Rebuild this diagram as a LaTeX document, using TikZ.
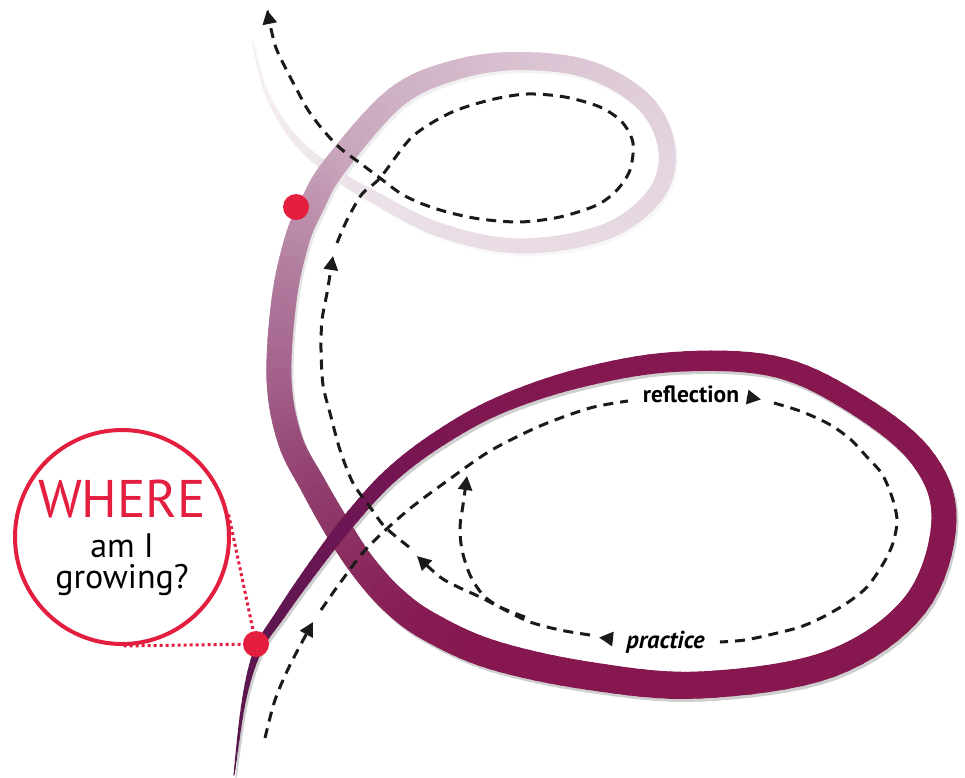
\documentclass[tikz,border=0pt]{standalone}
\usepackage{fontspec}
\setmainfont{PT Sans}
\usetikzlibrary{arrows.meta,calc}

\definecolor{dotred}{HTML}{E41E3F}
\definecolor{ink}{HTML}{1A1A1A}

% ribbon: points, widths and RGB colour, from its pale end to its dark end
% (first and last entries repeated)
\def\ribX{{252,252,266,293,330,372,440,520,605,655,667,645,590,520,455,395,334,312,297,284,279,290,313,337,362,393,430,493,590,700,830,915,944,920,850,773,673,580,500,440,390,348,310,280,258,244,234,234}}
\def\ribY{{40,40,92,137,170,196,230,246,232,195,150,103,70,61,70,98,167,205,240,300,380,440,485,527,565,600,627,655,676,685,664,605,520,455,400,366,362,378,405,438,476,522,572,615,650,700,775,775}}
\def\ribW{{1,1,4,7,10,12,14,15,16,17,17,18,18,18,20,22,24,25,25,25,25,25,26,27,27,28,29,29,28,27,27,26,25,24,22,21,20,19,17,16,15,14,12,10,8,4,1,1}}
\def\ribR{{247,247,245,242,239,236,235,233,231,230,229,226,222,218,213,208,200,192,186,175,165,155,148,143,140,137,135,134,134,134,134,134,134,134,134,134,134,133,130,124,117,110,103,98,94,91,88,88}}
\def\ribG{{241,241,238,234,230,226,223,220,218,215,213,208,201,195,186,178,165,150,140,120,100,80,66,55,45,35,28,24,24,24,24,24,24,24,24,24,24,24,24,23,22,22,22,22,23,24,26,26}}
\def\ribB{{245,245,242,239,236,233,231,229,227,225,224,220,215,210,204,198,188,177,170,155,140,124,113,103,96,89,84,79,79,79,79,79,79,79,79,79,80,80,81,82,83,84,83,81,79,77,76,76}}

% Catmull-Rom value at #1 from four values
\newcommand{\crval}[5]{0.5*(2*#3+(#4-#2)*#1+(2*#2-5*#3+4*#4-#5)*#1*#1+(3*#3-#2-3*#4+#5)*#1*#1*#1)}

% one pass over the ribbon; #1 may change the colour (for the shadow)
\newcommand{\ribbonpass}[1]{%
\foreach \i in {1,...,45}{
  \pgfmathsetmacro\ribxa{\ribX[\i-1]}\pgfmathsetmacro\ribxb{\ribX[\i]}
  \pgfmathsetmacro\ribxc{\ribX[\i+1]}\pgfmathsetmacro\ribxd{\ribX[\i+2]}
  \pgfmathsetmacro\ribya{\ribY[\i-1]}\pgfmathsetmacro\ribyb{\ribY[\i]}
  \pgfmathsetmacro\ribyc{\ribY[\i+1]}\pgfmathsetmacro\ribyd{\ribY[\i+2]}
  \pgfmathsetmacro\ribwa{\ribW[\i]}\pgfmathsetmacro\ribwb{\ribW[\i+1]}
  \pgfmathsetmacro\ribra{\ribR[\i]}\pgfmathsetmacro\ribrb{\ribR[\i+1]}
  \pgfmathsetmacro\ribga{\ribG[\i]}\pgfmathsetmacro\ribgb{\ribG[\i+1]}
  \pgfmathsetmacro\ribba{\ribB[\i]}\pgfmathsetmacro\ribbb{\ribB[\i+1]}
  \foreach \k in {0,...,7}{
    \pgfmathsetmacro\ribs{\k/8}\pgfmathsetmacro\ribt{(\k+1)/8}
    \pgfmathsetmacro\ribm{(\k+0.5)/8}
    \pgfmathsetmacro\ribpx{\crval{\ribs}{\ribxa}{\ribxb}{\ribxc}{\ribxd}}
    \pgfmathsetmacro\ribpy{\crval{\ribs}{\ribya}{\ribyb}{\ribyc}{\ribyd}}
    \pgfmathsetmacro\ribqx{\crval{\ribt}{\ribxa}{\ribxb}{\ribxc}{\ribxd}}
    \pgfmathsetmacro\ribqy{\crval{\ribt}{\ribya}{\ribyb}{\ribyc}{\ribyd}}
    \pgfmathsetmacro\riblw{\ribwa+\ribm*(\ribwb-\ribwa)}
    \pgfmathtruncatemacro\ribcr{\ribra+\ribm*(\ribrb-\ribra)}
    \pgfmathtruncatemacro\ribcg{\ribga+\ribm*(\ribgb-\ribga)}
    \pgfmathtruncatemacro\ribcb{\ribba+\ribm*(\ribbb-\ribba)}
    \definecolor{ribcol}{RGB}{\ribcr,\ribcg,\ribcb}#1
    \draw[ribcol, line width=\riblw pt, line cap=round] (\ribpx,\ribpy) -- (\ribqx,\ribqy);
  }
}}

\tikzset{
  trail/.style={ink, line width=3pt, dash pattern=on 10pt off 7pt},
  tip/.style={-{Triangle[length=14pt,width=14pt]}},
  callout/.style={circle, draw=dotred, line width=4pt, fill=white,
    minimum size=214pt, inner sep=0pt},
  reddot/.style={circle, fill=dotred, minimum size=26pt, inner sep=0pt},
  dotline/.style={dotred, line width=3pt, dash pattern=on 3pt off 3pt}
}

\begin{document}
\begin{tikzpicture}[x=1pt,y=-1pt]
\useasboundingbox (0,0) rectangle (965,777);

% the ribbon and its shadow, drawn from the pale end so the dark end lies on top
\begin{scope}[shift={(2,3)}]
\ribbonpass{\pgfmathtruncatemacro\ribsh{(255-\ribcg)*0.085}\colorlet{ribcol}{black!\ribsh}}
\end{scope}
\ribbonpass{}

% the dashed trail
\draw[trail,tip] plot[smooth] coordinates {(265,738) (275,700) (290,665) (313,622)};
\draw[trail] plot[smooth] coordinates {(321,610) (340,583) (367,548) (407,511)
  (447,481) (490,451) (540,426) (590,408) (628,401)};
\node[anchor=base, font=\bfseries\fontsize{23.5}{24}\selectfont] (refl) at (691,402) {reflection};
\draw[trail,tip,solid] (747,397) -- (761,399.5);
\draw[trail] plot[smooth] coordinates {(774,403) (800,411) (827,423) (849,438)
  (867,457) (882,474) (892,497) (897,520) (893,543) (883,564) (867,587)
  (847,603) (823,617) (800,627) (773,634) (745,640) (720,642)};
\node[anchor=base, font=\bfseries\itshape\fontsize{24.5}{25}\selectfont] (prac) at (665.5,648) {practice};
\draw[trail,tip,solid] (613,639) -- (599,637.5);
\draw[trail,tip] plot[smooth] coordinates {(590,635) (560,630) (530,622) (507,611)
  (480,597) (458,587) (440,577) (417,556)};
\draw[trail,tip] plot[smooth] coordinates {(525,617) (500,607) (483,595) (470,575)
  (462,550) (460,527) (463,505) (467,476)};
\draw[trail,tip] plot[smooth] coordinates {(409,547) (385,527) (370,507) (353,483)
  (340,450) (330,413) (323,385) (321,350) (322,320) (327,293) (333,256)};
\draw[trail,tip] plot[smooth] coordinates {(337,243) (347,220) (362,194) (380,178)
  (412,137) (450,113) (490,100) (527,94) (565,97) (600,107) (622,122)
  (633,143) (630,170) (617,190) (597,205) (560,217) (520,222) (480,219)
  (447,212) (420,203) (400,193) (380,178) (360,163) (340,148) (323,130)
  (308,110) (297,90) (285,67) (275,45) (267,10)};

% the call-out
\node[callout] (where) at (122,537) {};
\coordinate (lowpt) at (256,644);
\draw[dotline] (tangent cs:node=where,point={(lowpt)},solution=1) -- (lowpt);
\draw[dotline] (tangent cs:node=where,point={(lowpt)},solution=2) -- (lowpt);
\node[reddot] (lowdot) at (lowpt) {};
\node[reddot] (highdot) at (296,207) {};
\node[anchor=base, text=dotred, font=\fontsize{53}{53}\selectfont] (wword) at (122,517) {WHERE};
\node[anchor=base, font=\fontsize{34}{34}\selectfont] (ami) at (122,557) {am I};
\node[anchor=base, font=\fontsize{34}{34}\selectfont] (grow) at (122,588) {growing?};
\end{tikzpicture}
\end{document}
